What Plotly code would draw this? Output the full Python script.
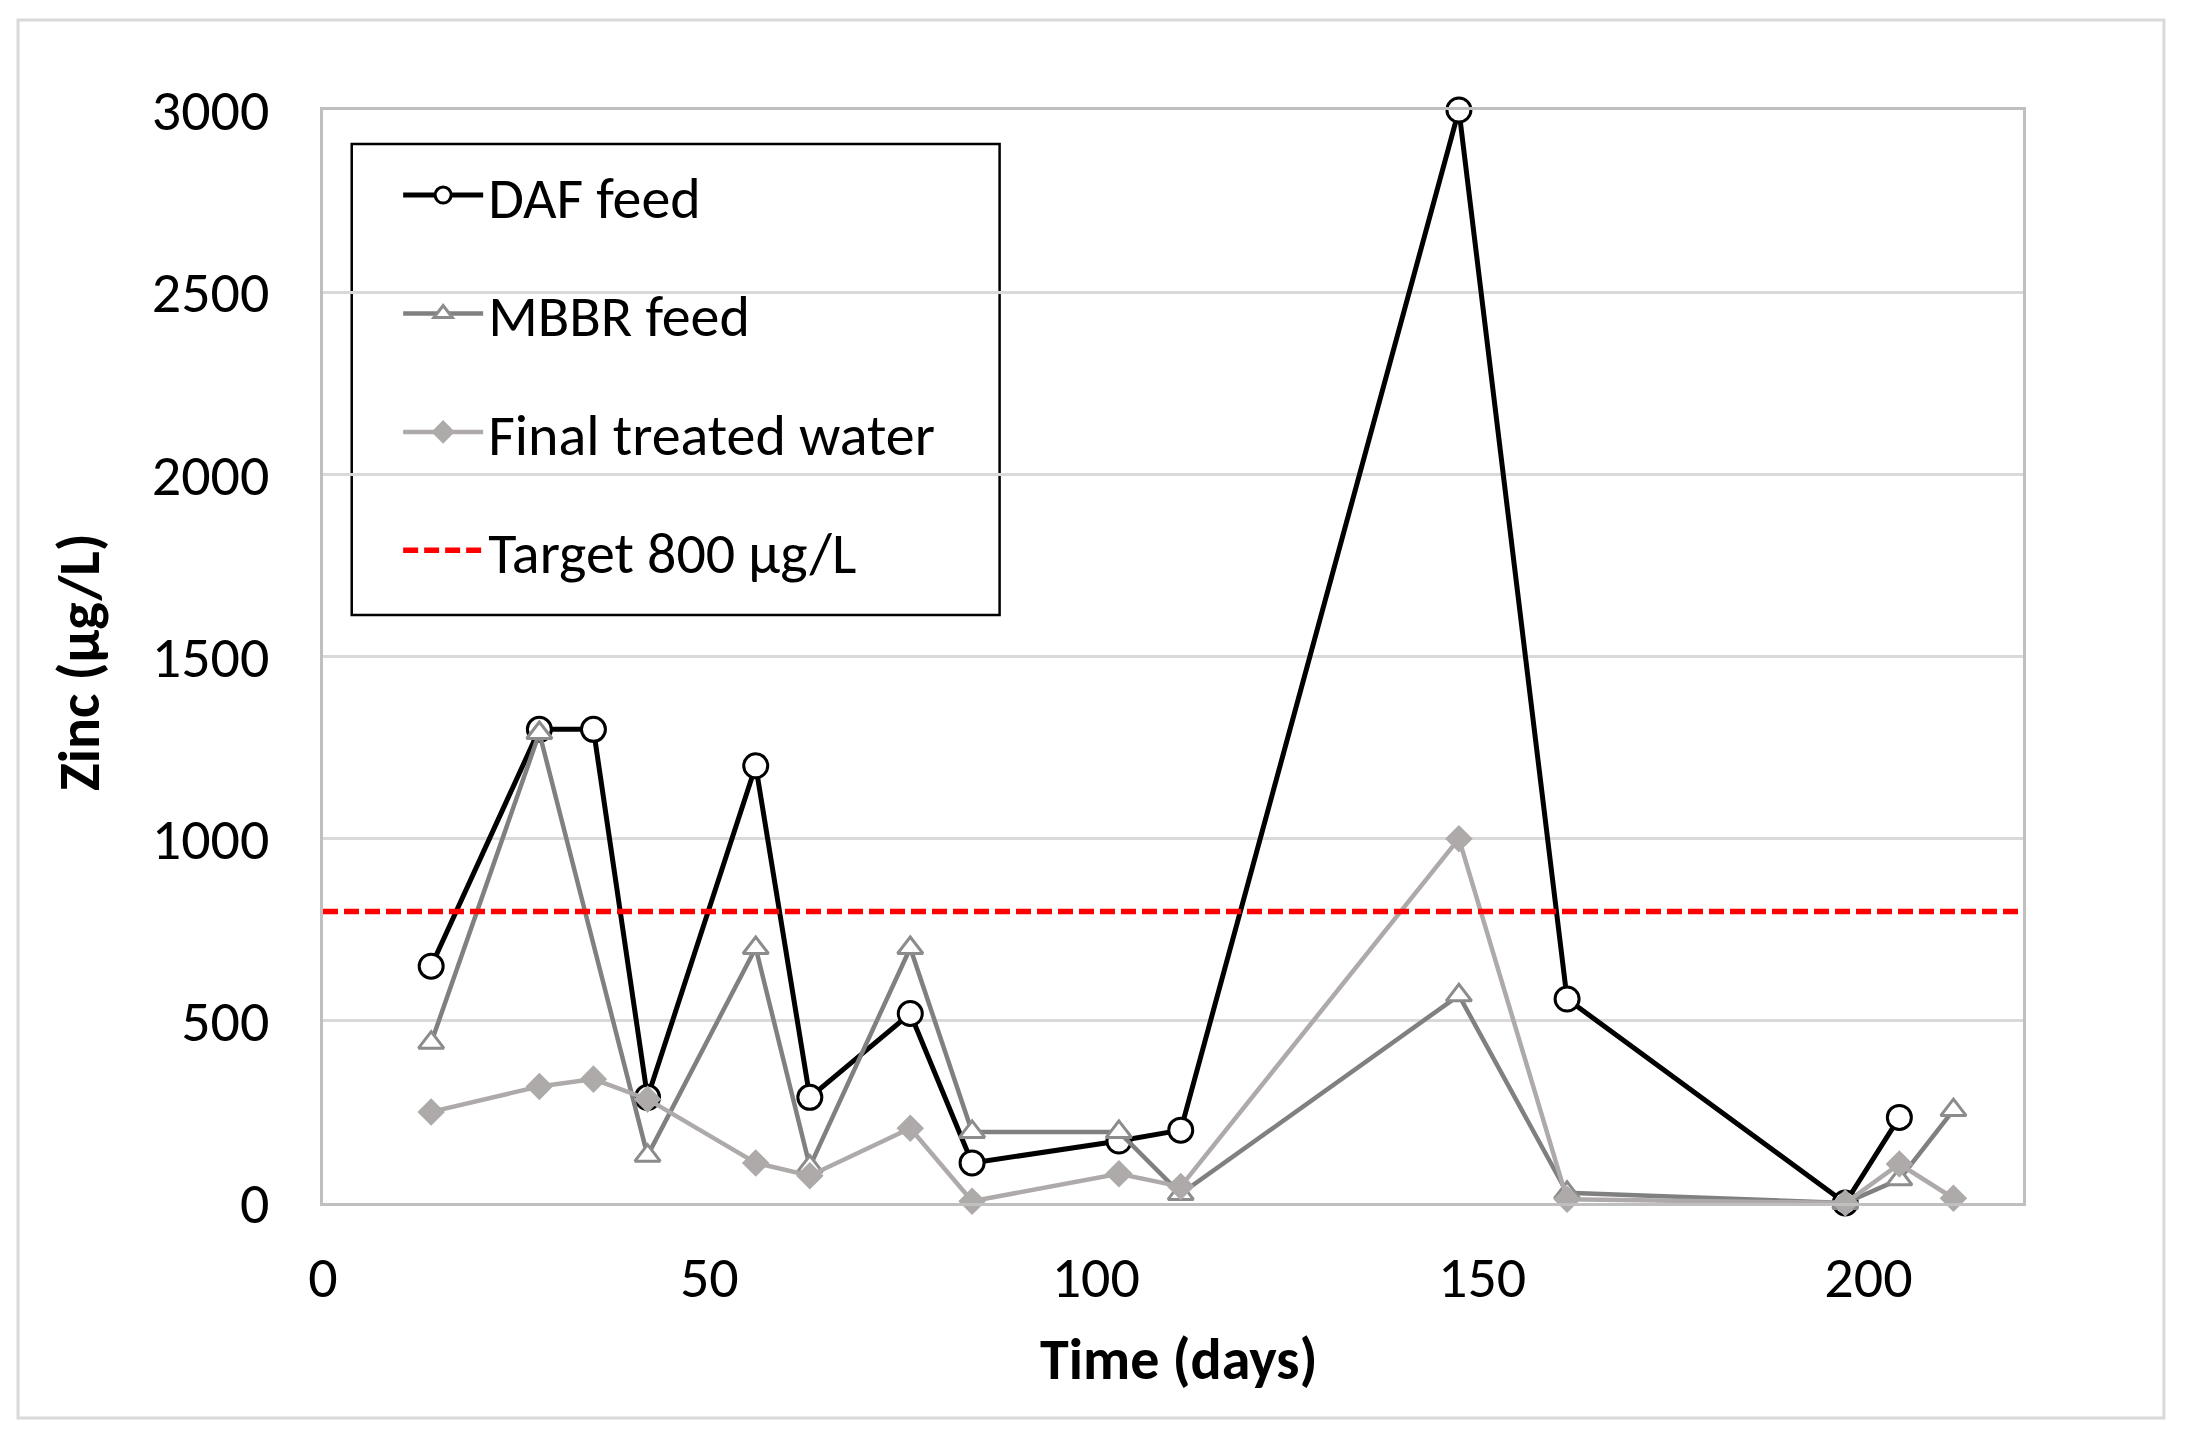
import plotly.graph_objects as go

# sampling days and zinc concentrations (ug/L)
daf_days = [14, 28, 35, 42, 56, 63, 76, 84, 103, 111, 147, 161, 197, 204]
daf_zinc = [650, 1300, 1300, 290, 1200, 290, 520, 110, 170, 200, 3000, 560, 0, 235]

mbbr_days = [14, 28, 42, 56, 63, 76, 84, 103, 111, 147, 161, 197, 204, 211]
mbbr_zinc = [440, 1290, 130, 700, 100, 700, 195, 195, 25, 570, 28, 0, 65, 255]

final_days = [14, 28, 35, 42, 56, 63, 76, 84, 103, 111, 147, 161, 197, 204, 211]
final_zinc = [250, 320, 340, 285, 110, 75, 205, 5, 80, 45, 1000, 10, 0, 107, 13]

target_days = [0, 220]
target_zinc = [800, 800]

FONT = "Carlito, Calibri, Lato, sans-serif"

fig = go.Figure()

fig.add_trace(go.Scatter(
    x=daf_days, y=daf_zinc, name="DAF feed", mode="lines+markers",
    line=dict(color="black", width=5),
    marker=dict(symbol="circle", size=24, color="white",
                line=dict(color="black", width=3)),
    legendgroup="a", cliponaxis=False))

fig.add_trace(go.Scatter(
    x=mbbr_days, y=mbbr_zinc, name="MBBR feed", mode="lines+markers",
    line=dict(color="#808080", width=4.5),
    marker=dict(symbol="triangle-up", size=22, color="white",
                line=dict(color="#8C8C8C", width=3)),
    legendgroup="b", cliponaxis=False))

fig.add_trace(go.Scatter(
    x=final_days, y=final_zinc, name="Final treated water", mode="lines+markers",
    line=dict(color="#AEAAAA", width=4.5),
    marker=dict(symbol="diamond", size=19, color="#AEAAAA",
                line=dict(color="#AEAAAA", width=2)),
    legendgroup="c", cliponaxis=False))

fig.add_trace(go.Scatter(
    x=target_days, y=target_zinc, name="Target 800 µg/L", mode="lines",
    line=dict(color="#FF0000", width=5.5, dash="15px,6px"),
    legendgroup="d"))

# outer light grey frame around the whole chart
fig.add_shape(type="rect", xref="paper", yref="paper",
              x0=-0.1794, x1=1.0829, y0=-0.1967, y1=1.0824,
              line=dict(color="#D9D9D9", width=3))
# legend frame (covers the gridlines, sits under the traces)
fig.add_shape(type="rect", xref="paper", yref="paper", layer="between",
              x0=0.0169, x1=0.398, y0=0.538, y1=0.9689,
              fillcolor="white", line=dict(color="black", width=2.5))

fig.add_annotation(text="<b>Time (days)</b>", xref="paper", yref="paper",
                   x=0.5035, y=-0.1436, xanchor="center", yanchor="middle",
                   showarrow=False,
                   font=dict(family=FONT, size=58, color="black"))
fig.add_annotation(text="<b>Zinc (µg/L)</b>", xref="paper", yref="paper",
                   x=-0.1429, y=0.495, xanchor="center", yanchor="middle",
                   textangle=-90, showarrow=False,
                   font=dict(family=FONT, size=58, color="black"))

fig.update_xaxes(range=[0, 220], dtick=50, showgrid=False,
                 showline=True, linecolor="#BFBFBF", linewidth=3, mirror=True,
                 ticks="", ticklabelstandoff=21, zeroline=False,
                 tickfont=dict(family=FONT, size=58, color="black"))
fig.update_yaxes(range=[0, 3000], dtick=500, showgrid=True,
                 gridcolor="#D9D9D9", gridwidth=2.5,
                 showline=True, linecolor="#BFBFBF", linewidth=3, mirror=True,
                 ticks="", ticklabelstandoff=39, zeroline=False,
                 tickfont=dict(family=FONT, size=58, color="black"))

# the page body has an 8px margin, so the figure is sized to fit inside it
fig.update_layout(
    width=2179, height=1435,
    margin=dict(l=315, r=164, t=102, b=240),
    paper_bgcolor="white", plot_bgcolor="white",
    font=dict(family=FONT, size=58, color="black"),
    showlegend=True,
    legend=dict(x=0.0442, y=0.9626, xanchor="left", yanchor="top",
                bgcolor="rgba(0,0,0,0)", borderwidth=0,
                traceorder="grouped", tracegroupgap=40, itemwidth=80,
                font=dict(family=FONT, size=58, color="black")),
)

fig.write_html("out.html")
